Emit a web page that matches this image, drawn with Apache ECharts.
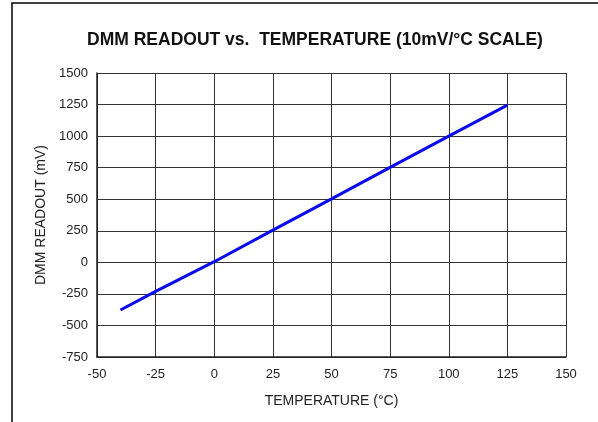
<!DOCTYPE html>
<html>
<head>
<meta charset="utf-8">
<script src="https://cdn.jsdelivr.net/npm/echarts@6/dist/echarts.min.js"></script>
<style>
  html, body { margin: 0; padding: 0; background: #fff; }
  #chart { width: 598px; height: 422px; }
</style>
</head>
<body>
<div id="chart"></div>
<script>
// temperature (°C) and DMM readout (mV)
const temps = [-40, -25, 0, 25, 50, 75, 100, 125];
const readout = [-378, -230, 5, 255, 503, 752, 1000, 1245];

const xTicks = { min: -50, max: 150, step: 25 };
const yTicks = { min: -750, max: 1500, step: 250 };

const chart = echarts.init(document.getElementById('chart'));

const font = 'Liberation Sans, Arial, sans-serif';

let option = {
  animation: false,
  title: {
    text: 'DMM READOUT vs.  TEMPERATURE (10mV/°C SCALE)',
    left: 310,
    textAlign: 'center',
    top: 26,
    textStyle: { fontFamily: font, fontSize: 17.5, fontWeight: 'bold', color: '#111' }
  },
  // frame around the figure (right and bottom edges fall outside the picture)
  graphic: [
    {
      type: 'rect',
      shape: { x: 12, y: 3, width: 700, height: 500 },
      style: { fill: 'none', stroke: '#000', lineWidth: 1.5 },
      silent: true
    }
  ],
  grid: { left: 97, right: 32, top: 73, bottom: 65 },
  xAxis: {
    type: 'value',
    min: xTicks.min,
    max: xTicks.max,
    interval: xTicks.step,
    name: 'TEMPERATURE (°C)',
    nameLocation: 'middle',
    nameGap: 37,
    nameTextStyle: { fontFamily: font, fontSize: 14, color: '#222' },
    axisLine: { onZero: false, lineStyle: { color: '#222', width: 1.5 } },
    axisTick: { show: false },
    axisLabel: { fontFamily: font, fontSize: 13, color: '#222', margin: 11 },
    splitLine: { show: true, lineStyle: { color: '#333', width: 1 } }
  },
  yAxis: {
    type: 'value',
    min: yTicks.min,
    max: yTicks.max,
    interval: yTicks.step,
    name: 'DMM READOUT (mV)',
    nameLocation: 'middle',
    nameGap: 43,
    nameTextStyle: { fontFamily: font, fontSize: 14, color: '#222' },
    axisLine: { show: true, onZero: false, lineStyle: { color: '#222', width: 1.5 } },
    axisTick: { show: false },
    axisLabel: { fontFamily: font, fontSize: 13, color: '#222', margin: 9, formatter: v => String(v) },
    splitLine: { show: true, lineStyle: { color: '#333', width: 1 } }
  },
  series: [
    {
      type: 'line',
      data: temps.map((t, i) => [t, readout[i]]),
      showSymbol: false,
      lineStyle: { color: '#0a0aee', width: 3 },
      z: 5
    }
  ]
};

chart.setOption(option);
</script>
</body>
</html>
